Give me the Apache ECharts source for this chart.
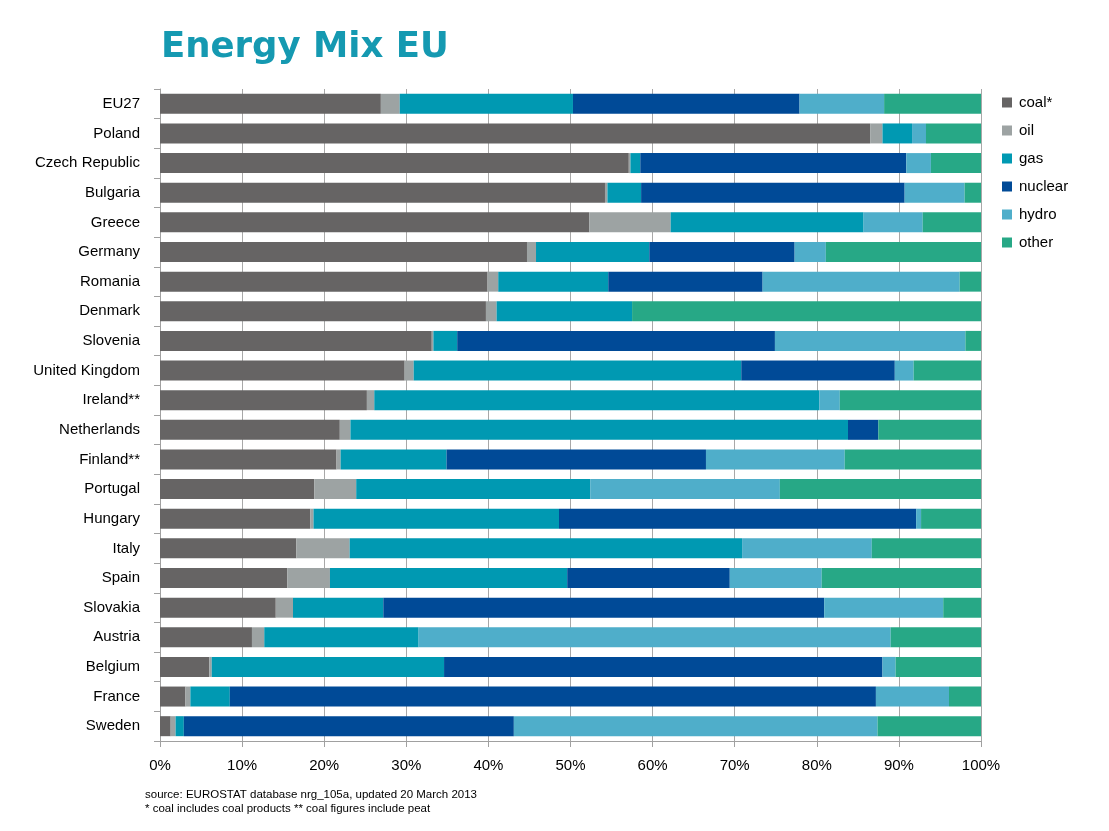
<!DOCTYPE html>
<html>
<head>
<meta charset="utf-8">
<script src="https://cdn.jsdelivr.net/npm/echarts@6/dist/echarts.min.js"></script>
<style>
html,body{margin:0;padding:0;background:#fff;}
#chart{width:1109px;height:831px;}
</style>
</head>
<body>
<div id="chart"></div>
<script>
const categories = ["EU27","Poland","Czech Republic","Bulgaria","Greece","Germany","Romania","Denmark","Slovenia","United Kingdom","Ireland**","Netherlands","Finland**","Portugal","Hungary","Italy","Spain","Slovakia","Austria","Belgium","France","Sweden"];
const coal    = [26.9,86.5,57.1,54.2,52.3,44.7,39.9,39.7,33.1,29.8,25.2,21.9,21.5,18.8,18.3,16.6,15.5,14.1,11.2,6.0,3.1,1.3];
const oil     = [2.3,1.5,0.2,0.3,9.9,1.1,1.3,1.3,0.2,1.1,0.9,1.3,0.5,5.1,0.4,6.5,5.2,2.1,1.5,0.3,0.6,0.6];
const gas     = [21.1,3.6,1.2,4.1,23.5,13.8,13.4,16.5,2.9,39.9,54.2,60.6,12.9,28.5,29.9,47.8,28.9,11.0,18.8,28.3,4.8,1.0];
const nuclear = [27.6,0,32.4,32.1,0,17.7,18.8,0,38.7,18.7,0,3.7,31.6,0,43.5,0,19.8,53.7,0,53.4,78.7,40.2];
const hydro   = [10.3,1.7,3.0,7.3,7.2,3.8,24.0,0,23.2,2.3,2.5,0,16.9,23.1,0.6,15.8,11.2,14.5,57.5,1.6,8.9,44.3];
const other   = [11.8,6.7,6.1,2.0,7.1,18.9,2.6,42.5,1.9,8.2,17.2,12.5,16.6,24.5,7.3,13.3,19.4,4.6,11.0,10.4,3.9,12.6];
const seriesNames = ["coal*","oil","gas","nuclear","hydro","other"];
const xTicks = [0,10,20,30,40,50,60,70,80,90,100];

const colors = ["#666464","#9da3a3","#0099b2","#004a97","#4faeca","#27a886"];
const seriesData = [coal, oil, gas, nuclear, hydro, other];
const font = "'Liberation Sans', Arial, sans-serif";
const titleFont = "'DejaVu Sans', 'Liberation Sans', sans-serif";

const chart = echarts.init(document.getElementById('chart'), null, {renderer:'canvas'});
chart.setOption({
  animation:false,
  backgroundColor:'#ffffff',
  title:[{
    text:'Energy Mix EU',
    left:161, top:30, padding:0,
    textStyle:{color:'#1599b1', fontSize:35.5, fontWeight:'bold', fontFamily:titleFont}
  },{
    text:'source: EUROSTAT database nrg_105a, updated 20 March 2013\n* coal includes coal products ** coal figures include peat',
    left:145, top:788, padding:0,
    textStyle:{color:'#000', fontSize:11.5, fontWeight:'normal', fontFamily:font, lineHeight:14}
  }],
  legend:{
    orient:'vertical', left:997, top:90,
    icon:'rect', itemWidth:10, itemHeight:10, itemGap:13,
    textStyle:{fontSize:15, color:'#000', fontFamily:font, padding:[0,0,0,2]},
    data:seriesNames
  },
  grid:{left:160, right:128, top:89, bottom:90, containLabel:false},
  xAxis:{
    type:'value', min:0, max:100, interval:10,
    axisLine:{show:true, lineStyle:{color:'#a0a0a0'}},
    axisTick:{show:true, length:6, lineStyle:{color:'#a0a0a0'}},
    splitLine:{show:true, lineStyle:{color:'#a8a8a8', width:1}},
    axisLabel:{formatter:function(v){return xTicks.indexOf(v)>=0? v+'%':'';}, fontSize:15, color:'#000', fontFamily:font, margin:17}
  },
  yAxis:{
    type:'category', data:categories, inverse:true,
    axisLine:{show:true, lineStyle:{color:'#a0a0a0'}},
    axisTick:{show:true, length:6, lineStyle:{color:'#a0a0a0'}},
    axisLabel:{fontSize:15, color:'#000', fontFamily:font, margin:20}
  },
  series: seriesNames.map(function(n,i){
    return {name:n, type:'bar', stack:'total', barWidth:20, data:seriesData[i],
      itemStyle:{color:colors[i]}, emphasis:{disabled:true}};
  })
});
</script>
</body>
</html>
